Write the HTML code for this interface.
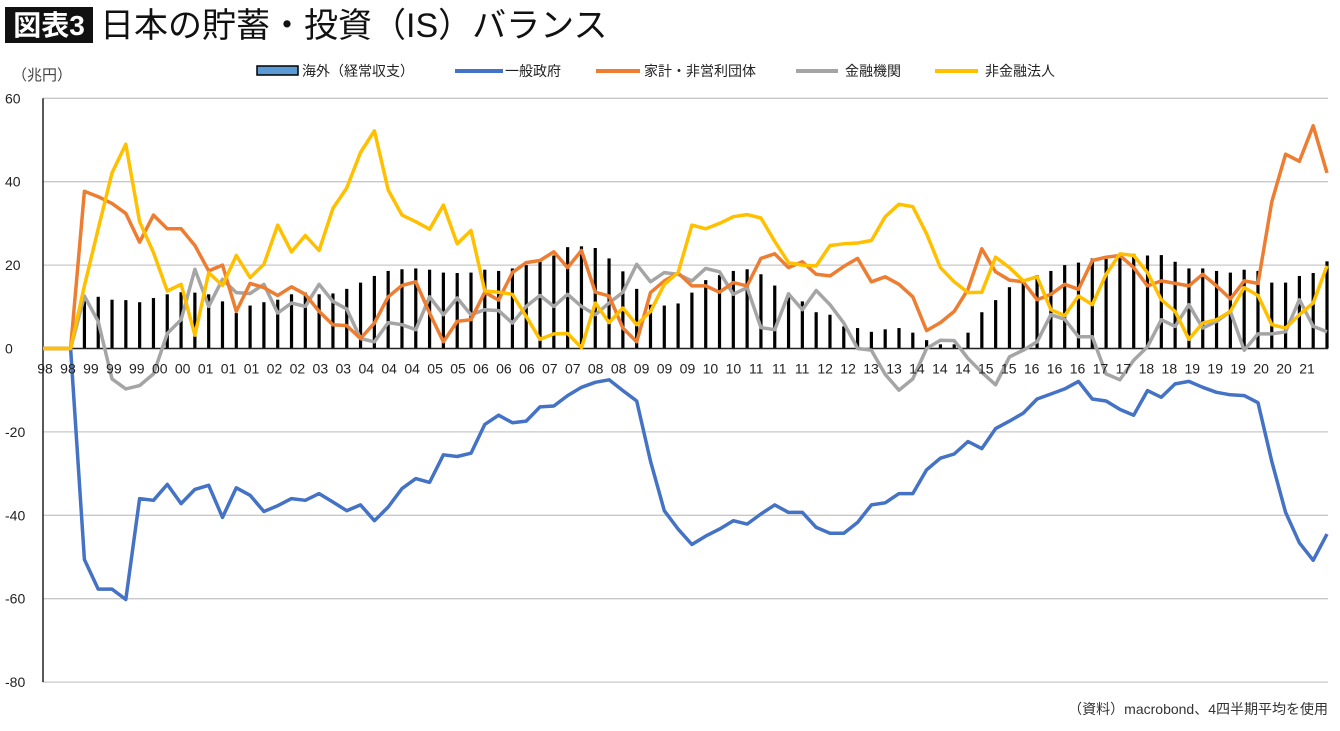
<!DOCTYPE html>
<html><head><meta charset="utf-8">
<style>
body{margin:0;background:#fff;width:1340px;height:726px;overflow:hidden;font-family:"Liberation Sans","Noto Sans CJK JP",sans-serif;}
</style></head>
<body>
<svg id="chart" width="1340" height="726" xmlns="http://www.w3.org/2000/svg" font-family="Liberation Sans, Noto Sans CJK JP, sans-serif">
  <rect x="5" y="7" width="88" height="36" fill="#111"/>
  <text x="49" y="35" fill="#fff" font-size="28" font-weight="bold" text-anchor="middle">図表3</text>
  <text x="100" y="37" fill="#111" font-size="34">日本の貯蓄・投資（IS）バランス</text>
  <text x="12" y="80" fill="#444" font-size="15">（兆円）</text>
  <g id="legend" font-size="14" fill="#222">
    <g><rect x="257" y="66" width="41" height="9" fill="#5b9bd5" stroke="#000" stroke-width="1.5"/><text x="302" y="76">海外（経常収支）</text></g>
    <g><line x1="455" y1="71" x2="503" y2="71" stroke="#4472c4" stroke-width="4"/><text x="505" y="76">一般政府</text></g>
    <g><line x1="596" y1="71" x2="640" y2="71" stroke="#ed7d31" stroke-width="4"/><text x="644" y="76">家計・非営利団体</text></g>
    <g><line x1="796" y1="71" x2="838" y2="71" stroke="#a5a5a5" stroke-width="4"/><text x="845" y="76">金融機関</text></g>
    <g><line x1="935" y1="71" x2="978" y2="71" stroke="#ffc000" stroke-width="4"/><text x="985" y="76">非金融法人</text></g>
  </g>
  <g id="grid"></g>
  <g id="bars"></g>
  <g id="lines"></g>
  <g id="xlabels"></g>
  <text x="1328" y="714" fill="#333" font-size="14" text-anchor="end">（資料）macrobond、4四半期平均を使用</text>
</svg>
<script>
const yTicks=[60,40,20,0,-20,-40,-60,-80];
const xLabels=["98","98","99","99","99","00","00","01","01","01","02","02","03","03","04","04","04","05","05","06","06","06","07","07","08","08","09","09","09","10","10","11","11","11","12","12","13","13","14","14","14","15","15","16","16","16","17","17","18","18","19","19","19","20","20","21"];
const overseas=[0,0,0,12.7,12.4,11.7,11.6,11.1,12.1,13,13.5,13.4,13,11.3,8.5,10.3,11.1,11.7,13,13.4,13,13.2,14.3,15.8,17.4,18.6,19,19.2,18.9,18.2,18.1,18.2,18.9,18.6,19.2,20,21.1,22.3,24.3,24.5,24.1,21.6,18.5,14.3,10.5,10.3,10.8,13.4,16.4,17.6,18.6,19,17.8,15.1,13.4,11.3,8.7,8.1,5.3,4.9,4,4.6,4.9,3.8,2,1,1,3.8,8.7,11.6,14.7,15.8,17.6,18.6,20,20.6,21.6,21.5,22.7,22.7,22.3,22.4,20.8,19.2,19.2,18.6,18.2,18.9,18.6,15.8,15.8,17.4,18.1,20.9];
const government=[0,0,0,-50.6,-57.7,-57.7,-60.2,-36,-36.4,-32.6,-37.2,-33.8,-32.8,-40.5,-33.4,-35.2,-39.1,-37.7,-36,-36.4,-34.8,-36.8,-38.9,-37.5,-41.3,-38,-33.6,-31.2,-32.1,-25.5,-25.9,-25.1,-18.2,-16,-17.8,-17.4,-14,-13.8,-11.3,-9.3,-8.1,-7.5,-10.1,-12.6,-27,-38.9,-43.3,-47,-45,-43.3,-41.3,-42.1,-39.7,-37.5,-39.3,-39.3,-42.9,-44.3,-44.3,-41.7,-37.5,-37,-34.8,-34.8,-29.1,-26.3,-25.3,-22.3,-24,-19.2,-17.4,-15.5,-12.1,-10.9,-9.7,-7.9,-12.1,-12.6,-14.6,-16,-10.1,-11.7,-8.5,-7.9,-9.3,-10.5,-11.1,-11.3,-13,-27.1,-39.3,-46.6,-50.8,-44.5];
const households=[0,0,0,37.7,36.4,34.8,32.4,25.5,32,28.7,28.7,24.7,18.6,20,8.9,15.6,14.6,12.7,14.8,13,8.9,5.7,5.5,2.4,6.1,12.4,15.1,16,8.5,1.6,6.5,6.9,13.5,11.6,18.2,20.6,21.1,23.2,19.4,23.5,13.5,12.6,4.9,1.6,13.4,16.2,18.1,15,15,13.5,15.8,15,21.6,22.7,19.4,20.8,17.8,17.4,19.7,21.6,16,17.2,15.4,12.4,4.3,6.2,8.9,14.2,23.9,18.4,16.4,16,11.7,13,15.4,14.2,21.1,21.9,22.3,19.4,15,16.2,15.6,15,17.8,15,11.9,16.2,15.6,35.2,46.6,44.9,53.4,42.1];
const financial=[0,0,0,12.6,6.5,-7.3,-9.7,-8.9,-6.1,3.6,6.9,19,10.1,16.6,13.4,13.2,15.4,8.5,10.9,10.1,15.4,11.3,9.5,2.4,1.6,6.2,5.7,4.5,12.4,8.1,12.1,8.1,9.3,9.1,6.1,10.1,12.7,10.1,13,10.1,8.1,10.9,13.5,20.2,16,18.2,17.8,16.2,19.2,18.4,13,14.6,5,4.5,13.1,9.3,13.9,10.5,6.1,0,-0.4,-6.2,-10,-7.3,0,2,1.9,-2.4,-5.7,-8.7,-2,-0.4,1.6,8.1,7,2.8,2.8,-6.1,-7.5,-2.8,0.4,6.9,5.3,10.5,4.9,6.5,8.9,-0.4,3.5,3.5,4,11.7,5.3,4];
const nonfinancial=[0,0,0,15,28.7,42.1,49,30.4,23,13.8,15.4,3.2,18.2,15.1,22.3,17,20.2,29.6,23.2,27.1,23.5,33.6,38.5,47,52.2,38,32,30.4,28.6,34.4,25.1,28.3,13.8,13.5,13,7.7,2.2,3.5,3.6,0.2,10.9,6.2,9.7,5.7,8.9,15.4,18.2,29.6,28.7,30,31.6,32.1,31.3,25.7,20.6,20,19.8,24.7,25.1,25.3,25.9,31.6,34.6,34,27.5,19.4,16,13.4,13.5,21.9,19.4,16.2,17.2,9.3,7.9,12.6,10.5,17.8,22.7,22.3,18.2,11.7,8.9,2.2,6.1,6.9,8.9,14.6,12.7,5.7,4.9,8.1,10.9,19.8];

const NS='http://www.w3.org/2000/svg';
const X0=43,X1=1327,Y60=98.3,PX=4.17;
function xs(i){return X0+i*(X1-X0)/(overseas.length-1);}
function ys(v){return Y60+(60-v)*PX;}
function mk(tag,attrs,parent){const e=document.createElementNS(NS,tag);for(const k in attrs)e.setAttribute(k,attrs[k]);parent.appendChild(e);return e;}
const grid=document.getElementById('grid');
yTicks.forEach(t=>{
  const l=mk('line',{x1:X0,x2:1328,y1:ys(t),y2:ys(t),stroke:'#c8c8c8','stroke-width':1.3},grid);
  
  
  const tx=mk('text',{x:5,y:ys(t)+5,'font-size':14,fill:'#222'},grid);
  tx.textContent=t;
  
  
});
const ax=mk('line',{x1:X0,x2:X0,y1:Y60,y2:ys(-80),stroke:'#222','stroke-width':1.5},grid);


const bars=document.getElementById('bars');
overseas.forEach((v,i)=>{
  const b=mk('rect',{x:xs(i)-1.6,y:Math.min(ys(v),ys(0)),width:3.2,height:Math.abs(ys(v)-ys(0)),fill:'#000'},bars);
  
  
});
const za=mk('line',{x1:X0,x2:1328,y1:ys(0),y2:ys(0),stroke:'#222','stroke-width':1.5},bars);


const lines=document.getElementById('lines');
[[government,'#4472c4','government-line'],[financial,'#a5a5a5','financial-line'],[households,'#ed7d31','households-line'],[nonfinancial,'#ffc000','nonfinancial-line']].forEach(([arr,c,n])=>{
  const p=mk('polyline',{points:arr.map((v,i)=>xs(i).toFixed(1)+','+ys(v).toFixed(1)).join(' '),fill:'none',stroke:c,'stroke-width':3.5,'stroke-linejoin':'round'},lines);
  
  
});
const xl=document.getElementById('xlabels');
xLabels.forEach((t,i)=>{
  const tx=mk('text',{x:45+i*(1307-45)/(xLabels.length-1),y:ys(0)+25,'font-size':14,fill:'#222','text-anchor':'middle'},xl);
  tx.textContent=t;
  
  
});
</script>
</body></html>
